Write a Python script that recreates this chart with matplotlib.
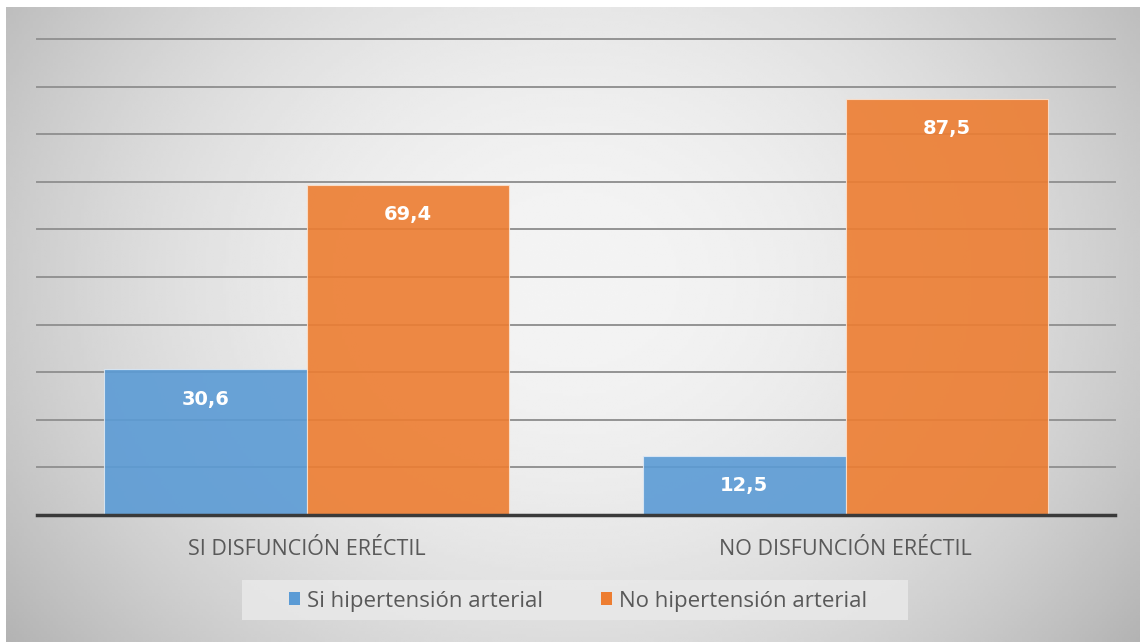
import numpy as np
import matplotlib
matplotlib.use("Agg")
import matplotlib.pyplot as plt
from matplotlib.patches import Rectangle

categories = ["SI DISFUNCIÓN ERÉCTIL", "NO DISFUNCIÓN ERÉCTIL"]
series = ["Si hipertensión arterial", "No hipertensión arterial"]
si_hta = [30.6, 12.5]
no_hta = [69.4, 87.5]
colors = ["#5b9bd5", "#ed7d31"]

W, H = 1145, 642
fig = plt.figure(figsize=(W / 100, H / 100), dpi=100)
fig.patch.set_facecolor("white")

# gray gradient chart-area background
bg = fig.add_axes([6 / W, 0, 1134 / W, 635 / H])
yy, xx = np.mgrid[-0.9:1.2:200j, -1:1:400j]
r2 = xx ** 2 + 0.4 * yy ** 2
bg.imshow(0.955 - 0.16 * r2, cmap="gray", vmin=0, vmax=1, aspect="auto",
          interpolation="bilinear")
bg.set_axis_off()

ax = fig.add_axes([37 / W, 1 - 515 / H, 1078 / W, 476 / H])
ax.patch.set_alpha(0)
x = np.arange(len(categories))
w = 0.375
b1 = ax.bar(x - w / 2, si_hta, w, color=colors[0], alpha=0.9, edgecolor="#dbe8f5",
            linewidth=0.8, label=series[0], zorder=2)
b2 = ax.bar(x + w / 2, no_hta, w, color=colors[1], alpha=0.9, edgecolor="#fbe0cc",
            linewidth=0.8, label=series[1], zorder=2)
for bars in (b1, b2):
    for b in bars:
        ax.text(b.get_x() + b.get_width() / 2, b.get_height() - 6.3,
                f"{b.get_height():.1f}".replace(".", ","), ha="center", va="center",
                color="white", fontsize=14, fontweight="bold", zorder=4)

ax.set_xlim(-0.5, 1.5)
ax.set_ylim(0, 100)
ax.set_yticks(np.arange(10, 101, 10))
ax.yaxis.grid(True, color="#939393", linewidth=1.4, zorder=1)
ax.set_axisbelow(True)
for gl in ax.yaxis.get_gridlines():
    gl.set_clip_on(False)
ax.tick_params(axis="y", left=False, labelleft=False)
ax.tick_params(axis="x", bottom=False, pad=14)
ax.set_xticks(x)
ax.set_xticklabels(categories, fontsize=15.5, color="#595959", family="Open Sans")
for s in ("top", "left", "right"):
    ax.spines[s].set_visible(False)
ax.spines["bottom"].set_color("#3a3a3a")
ax.spines["bottom"].set_linewidth(2.5)
ax.spines["bottom"].set_zorder(5)

# legend box drawn behind a frameless legend
fig.patches.append(Rectangle((242 / W, 1 - 620 / H), 666 / W, 40 / H,
                             transform=fig.transFigure, facecolor="#e9e9e9",
                             edgecolor="none", alpha=0.85, zorder=0))
leg = fig.legend(handles=[b1, b2], labels=series, loc="center",
                 bbox_to_anchor=(578 / W, 1 - 601 / H), ncol=2, frameon=False,
                 handlelength=0.5, handleheight=0.5, handletextpad=0.3,
                 columnspacing=2.6, borderpad=0.3, borderaxespad=0,
                 prop={"family": "Open Sans", "size": 16})
for t in leg.get_texts():
    t.set_color("#595959")
for h in leg.legend_handles:
    h.set_alpha(1)
    h.set_edgecolor("none")

fig.savefig("out.png", dpi=100)
